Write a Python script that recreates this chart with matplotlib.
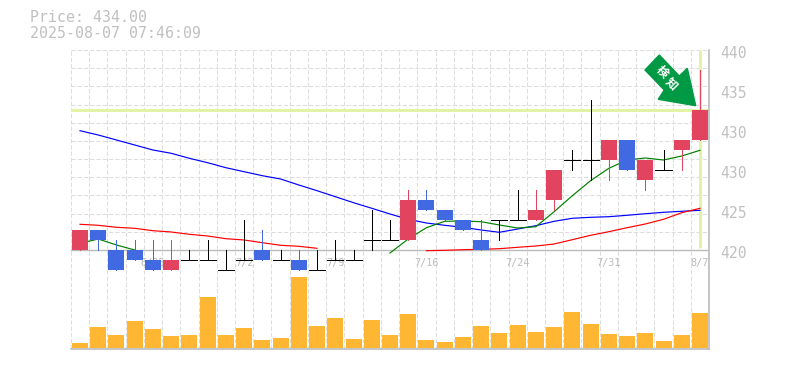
import matplotlib
matplotlib.use('Agg')
import matplotlib.pyplot as plt
from matplotlib.patches import Polygon
from matplotlib.transforms import blended_transform_factory
import numpy as np

# candles, price in yen. close == open means doji (drawn black)
opens = [420, 422, 420, 420, 419, 418, 419, 419, 418, 419, 420, 419, 419, 418, 419, 419, 421, 421,
         421, 425, 424, 423, 421, 423, 423, 423, 425, 429, 429, 429, 431, 427, 428, 430, 431]
closes = [422, 421, 418, 419, 418, 419, 419, 419, 418, 419, 419, 419, 418, 418, 419, 419, 421, 421,
          425, 424, 423, 422, 420, 423, 423, 424, 428, 429, 429, 431, 428, 429, 428, 431, 434]
highs = [422, 422, 421, 421, 421, 421, 420, 421, 420, 423, 422, 420, 420, 420, 421, 420, 424, 423,
         426, 426, 424, 423, 423, 423, 426, 426, 428, 430, 435, 431, 431, 429, 430, 431, 438]
lows = [420, 420, 418, 419, 418, 418, 419, 419, 418, 419, 419, 419, 418, 418, 419, 419, 420, 421,
        421, 424, 423, 422, 420, 421, 423, 423, 424, 428, 427, 427, 428, 426, 428, 428, 431]

# moving averages, None where the line is not drawn
ma_short = [420.67, 421.1, 420.5, 420.0, None, None, None, None, None, None, None, None, None, None, None, None, None, 419.7,
            421.1, 422.23, 422.87, 422.9, 422.83, 422.5, 422.2, 422.33, 423.83, 425.43, 426.93, 428.17, 429.0, 429.2, 429.0, 429.4, 429.97]
ma_mid = [422.57, 422.47, 422.27, 422.17, 421.93, 421.8, 421.57, 421.4, 421.13, 421.0, 420.73, 420.47, 420.37, 420.17, None, None, None, None,
          None, 419.93, 419.97, 420.03, 420.07, 420.13, 420.27, 420.4, 420.6, 421.03, 421.47, 421.83, 422.23, 422.6, 423.07, 423.73, 424.17]
ma_long = [431.93, 431.5, 431.0, 430.5, 430.0, 429.67, 429.17, 428.73, 428.23, 427.83, 427.43, 427.1, 426.5, 425.93, 425.33, 424.73, 424.17, 423.6,
           423.07, 422.7, 422.47, 422.27, 422.0, 421.77, 422.1, 422.43, 422.87, 423.17, 423.27, 423.33, 423.47, 423.63, 423.77, 423.87, 423.97]

volumes = [5, 21, 13, 27, 19, 12, 13, 51, 13, 20, 8, 10, 71, 22, 30, 9, 28, 13,
           34, 8, 6, 11, 22, 15, 23, 16, 21, 36, 24, 14, 12, 15, 7, 13, 35]

date_idx = [4, 9, 14, 19, 24, 29, 34]
date_labels = ['6/25', '7/2', '7/9', '7/16', '7/24', '7/31', '8/7']
price_ticks = [420, 424, 428, 432, 436, 440]
price_tick_labels = ['420', '425', '430', '430', '435', '440']
last_price = 434.0

UP = '#e2435f'
DOWN = '#4169e1'
GREY = '#bbbbbb'
TXT = '#c0c0c0'
GRID = '#dddddd'

W, H = 785, 370
fig = plt.figure(figsize=(W / 100, H / 100), dpi=100)
# one axes from the top of the price area down to the volume baseline
ax = fig.add_axes([70.9 / W, 1 - 348.5 / H, (709.1 - 70.9) / W, (348.5 - 50) / H])
ax.set_xlim(-0.5, 34.5)
ax.set_ylim(410.15, 440)
for s in ['top', 'left']:
    ax.spines[s].set_visible(False)
for s in ['bottom', 'right']:
    ax.spines[s].set_color(GREY)
    ax.spines[s].set_linewidth(1.2)

x = np.arange(len(opens))

# grid
for gx in np.arange(-0.5, 34.5, 1):
    ax.axvline(gx, color=GRID, lw=0.75, dashes=(4, 2), zorder=1)
for gy in np.linspace(420, 440, 12)[1:]:
    ax.axhline(gy, color=GRID, lw=0.75, dashes=(4, 2), zorder=1)
ax.axhline(420, color=GREY, lw=1, zorder=1.5)

# date labels sit under the candles
for i, lab in zip(date_idx, date_labels):
    ax.text(i, 418.7, lab, ha='center', va='center', color=GREY, fontsize=7.3,
            family='DejaVu Sans Mono', zorder=1.6)

# current price markers
ax.axhline(last_price, color='#e3f3a6', lw=2.2, zorder=2)
ax.plot([34, 34], [420.2, 440], color='#e3f3a6', lw=2.2, zorder=2, solid_capstyle='butt')

# volume on its own scale, 1 unit = 1 pixel
vol = ax.twinx()
vol.set_ylim(-0.5, 298)
vol.axis('off')
vol.bar(x, volumes, width=0.877, color='#ffb733', zorder=3)

# moving averages
def ma_line(vals, color):
    y = np.array([np.nan if v is None else v for v in vals], dtype=float)
    ax.plot(x, y, color=color, lw=0.85, zorder=3)

ma_line(ma_long, '#0000ff')
ma_line(ma_mid, '#ff0000')
ma_line(ma_short, '#008000')

# candles
ax.set_zorder(vol.get_zorder() + 1)
ax.patch.set_visible(False)
for i in x:
    o, c, h, l = opens[i], closes[i], highs[i], lows[i]
    if o == c:
        col = 'black'
        ax.plot([i, i], [l, h], color=col, lw=0.72, zorder=4, solid_capstyle='butt', antialiased=False)
        ax.plot([i - 0.44, i + 0.44], [o, o], color=col, lw=0.72, zorder=4, solid_capstyle='butt', antialiased=False)
    else:
        col = UP if c > o else DOWN
        ax.plot([i, i], [l, h], color=col, lw=0.72, zorder=4, solid_capstyle='butt', antialiased=False)
        ax.bar(i, abs(c - o), bottom=min(o, c), width=0.877, color=col, zorder=5)

ax.set_xticks([])
ax.set_yticks([])
# price labels sit a little below their level
lab_tr = blended_transform_factory(fig.transFigure, ax.transData)
for p, lab in zip(price_ticks, price_tick_labels):
    ax.text(720 / W, p - 0.3, lab, transform=lab_tr, ha='left', va='center', color=TXT, fontsize=10.6,
            family='DejaVu Sans Mono', clip_on=False)

# arrow badge, figure pixels
pts = [(659.3, 55), (645, 70), (664.3, 90), (658.3, 99.3), (695.7, 105.7), (687.3, 68.3), (679.3, 76)]
fig.add_artist(Polygon([(px / W, 1 - py / H) for px, py in pts], closed=True, color='#009944',
                       transform=fig.transFigure, zorder=6))
for cx, cy, ch in [(661.7, 71.7, '検'), (671.7, 83.3, '知')]:
    fig.text(cx / W, 1 - cy / H, ch, rotation=-45, ha='center', va='center', color='white', fontsize=8.5,
             fontweight='bold', family=['Noto Sans CJK JP', 'DejaVu Sans'], zorder=7)

# header
fig.text(30 / W, 1 - 18 / H, 'Price: 434.00', color=TXT, fontsize=10.7, family='DejaVu Sans Mono', va='center')
fig.text(30 / W, 1 - 33 / H, '2025-08-07 07:46:09', color=TXT, fontsize=10.7, family='DejaVu Sans Mono', va='center')

fig.savefig('out.png', dpi=100)
